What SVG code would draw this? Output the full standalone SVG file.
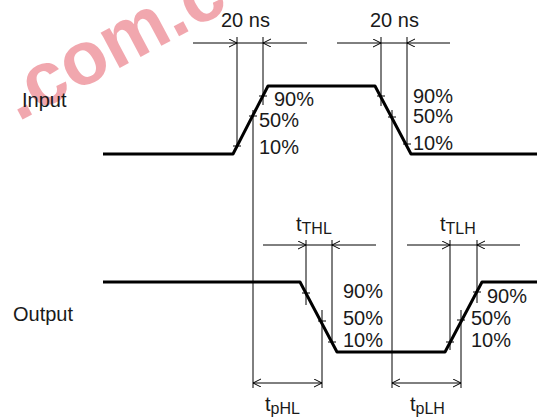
<svg xmlns="http://www.w3.org/2000/svg" width="541" height="418" viewBox="0 0 541 418">
<style>
.wave{fill:none;stroke:#000;stroke-width:3;stroke-linejoin:round}
.thin{fill:none;stroke:#000;stroke-width:1}
.lbl{font-family:"Liberation Sans",Arial,sans-serif;font-size:20px;fill:#1a1a1a}
.sub{font-size:16px}
.wm{font-family:"Liberation Sans",Arial,sans-serif;font-size:76px;font-weight:bold;fill:#e03040;opacity:0.42}
</style>
<defs>
<marker id="ah" markerUnits="userSpaceOnUse" markerWidth="10" markerHeight="10" refX="8" refY="4" orient="auto-start-reverse" viewBox="0 0 10 10">
<path d="M0,0 L8,4 L0,8" fill="none" stroke="#000" stroke-width="1"/>
</marker>
</defs>
<rect width="541" height="418" fill="#fff"/>
<text class="wm" transform="translate(18,122) rotate(-28)">.com.c</text>

<g id="input-label"><text class="lbl" x="22" y="107">Input</text></g>
<g id="output-label"><text class="lbl" x="13" y="321">Output</text></g>

<g id="input-wave">
<polyline class="wave" points="103,154 233,154 268,86 375,86 411,154 537,154"/>
</g>
<g id="output-wave">
<polyline class="wave" points="103,282 300,282 337,352 445,352 482,282 537,282"/>
</g>

<g id="connectors">
<!-- input reference lines -->
<line class="thin" x1="237" y1="37" x2="237" y2="148"/>
<line class="thin" x1="263" y1="37" x2="263" y2="105"/>
<line class="thin" x1="253" y1="110" x2="253" y2="388"/>
<line class="thin" x1="381" y1="37" x2="381" y2="106"/>
<line class="thin" x1="407" y1="37" x2="407" y2="148"/>
<line class="thin" x1="392" y1="110" x2="392" y2="388"/>
<!-- input ticks -->
<line class="thin" x1="233" y1="146" x2="241" y2="146"/>
<line class="thin" x1="249" y1="116" x2="257" y2="116"/>
<line class="thin" x1="259" y1="96" x2="267" y2="96"/>
<line class="thin" x1="377" y1="96" x2="385" y2="96"/>
<line class="thin" x1="388" y1="117" x2="396" y2="117"/>
<line class="thin" x1="403" y1="144" x2="411" y2="144"/>
<!-- input 20 ns arrows -->
<line class="thin" x1="193" y1="43" x2="237" y2="43" marker-end="url(#ah)"/>
<line class="thin" x1="237" y1="43" x2="263" y2="43"/>
<line class="thin" x1="307" y1="43" x2="263" y2="43" marker-end="url(#ah)"/>
<line class="thin" x1="337" y1="43" x2="381" y2="43" marker-end="url(#ah)"/>
<line class="thin" x1="381" y1="43" x2="407" y2="43"/>
<line class="thin" x1="450" y1="43" x2="407" y2="43" marker-end="url(#ah)"/>
<!-- output reference lines -->
<line class="thin" x1="306" y1="240" x2="306" y2="305"/>
<line class="thin" x1="332" y1="240" x2="332" y2="344"/>
<line class="thin" x1="322" y1="310" x2="322" y2="388"/>
<line class="thin" x1="450" y1="240" x2="450" y2="350"/>
<line class="thin" x1="477" y1="240" x2="477" y2="303"/>
<line class="thin" x1="461" y1="310" x2="461" y2="388"/>
<!-- output ticks -->
<line class="thin" x1="302" y1="293" x2="310" y2="293"/>
<line class="thin" x1="318" y1="321" x2="326" y2="321"/>
<line class="thin" x1="328" y1="342" x2="336" y2="342"/>
<line class="thin" x1="446" y1="342" x2="454" y2="342"/>
<line class="thin" x1="457" y1="320" x2="465" y2="320"/>
<line class="thin" x1="473" y1="292" x2="481" y2="292"/>
<!-- tTHL / tTLH arrows -->
<line class="thin" x1="263" y1="245" x2="306" y2="245" marker-end="url(#ah)"/>
<line class="thin" x1="306" y1="245" x2="332" y2="245"/>
<line class="thin" x1="376" y1="245" x2="332" y2="245" marker-end="url(#ah)"/>
<line class="thin" x1="407" y1="245" x2="450" y2="245" marker-end="url(#ah)"/>
<line class="thin" x1="450" y1="245" x2="477" y2="245"/>
<line class="thin" x1="520" y1="245" x2="477" y2="245" marker-end="url(#ah)"/>
<!-- tpHL / tpLH arrows -->
<line class="thin" x1="253" y1="383" x2="322" y2="383" marker-start="url(#ah)" marker-end="url(#ah)"/>
<line class="thin" x1="392" y1="383" x2="461" y2="383" marker-start="url(#ah)" marker-end="url(#ah)"/>
</g>

<g id="input-texts">
<text class="lbl" x="221" y="27">20 ns</text>
<text class="lbl" x="370" y="27">20 ns</text>
<text class="lbl" x="274" y="106">90%</text>
<text class="lbl" x="259" y="127">50%</text>
<text class="lbl" x="259" y="154">10%</text>
<text class="lbl" x="413" y="103">90%</text>
<text class="lbl" x="413" y="123">50%</text>
<text class="lbl" x="413" y="150">10%</text>
</g>
<g id="output-texts">
<text class="lbl" x="343" y="298">90%</text>
<text class="lbl" x="343" y="325">50%</text>
<text class="lbl" x="343" y="347">10%</text>
<text class="lbl" x="487" y="303">90%</text>
<text class="lbl" x="471" y="325">50%</text>
<text class="lbl" x="471" y="347">10%</text>
<text class="lbl" x="296" y="231">t<tspan class="sub" dy="3">THL</tspan></text>
<text class="lbl" x="440" y="231">t<tspan class="sub" dy="3">TLH</tspan></text>
<text class="lbl" x="265" y="411">t<tspan class="sub" dy="3">pHL</tspan></text>
<text class="lbl" x="410" y="411">t<tspan class="sub" dy="3">pLH</tspan></text>
</g>
</svg>
